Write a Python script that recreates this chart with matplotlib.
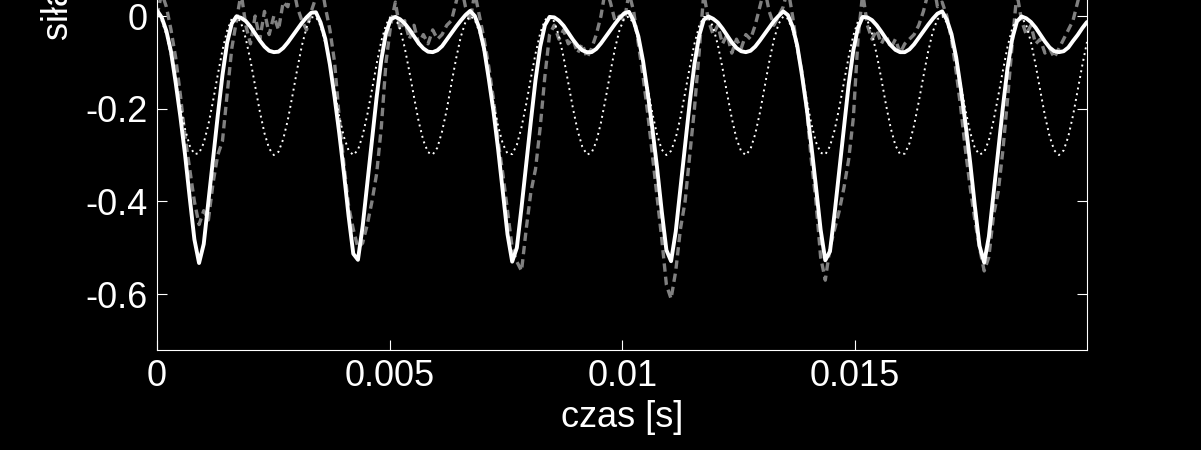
import numpy as np
import matplotlib
matplotlib.use("Agg")
import matplotlib.pyplot as plt

plt.rcParams["font.family"] = ["Liberation Sans", "DejaVu Sans"]
plt.rcParams["axes.unicode_minus"] = False

t_end = 0.01998

# model (solid white)
force_model = [
    0.012, -0.003, -0.032, -0.077, -0.144, -0.217, -0.299, -0.392, -0.482, -0.533,
    -0.492, -0.401, -0.308, -0.215, -0.128, -0.058, -0.016, -0.001, -0.004, -0.011,
    -0.023, -0.038, -0.053, -0.066, -0.075, -0.078, -0.077, -0.069, -0.057, -0.043,
    -0.029, -0.015, -0.003, 0.007,
    0.008, -0.014, -0.049, -0.105, -0.175, -0.253, -0.339, -0.432, -0.513, -0.526,
    -0.454, -0.361, -0.267, -0.175, -0.094, -0.037, -0.007, -0.002, -0.007, -0.016,
    -0.029, -0.044, -0.059, -0.070, -0.077, -0.078, -0.074, -0.065, -0.051, -0.037,
    -0.023, -0.010, 0.002, 0.011,
    0.000, -0.027, -0.071, -0.136, -0.206, -0.288, -0.380, -0.471, -0.530, -0.500,
    -0.413, -0.320, -0.227, -0.138, -0.066, -0.020, -0.002, -0.003, -0.010, -0.021,
    -0.036, -0.051, -0.064, -0.074, -0.078, -0.078, -0.071, -0.059, -0.045, -0.031,
    -0.017, -0.004, 0.006,
    0.009, -0.011, -0.044, -0.097, -0.166, -0.243, -0.327, -0.421, -0.505, -0.529,
    -0.465, -0.372, -0.279, -0.186, -0.104, -0.043, -0.008, -0.001, -0.006, -0.014,
    -0.027, -0.042, -0.057, -0.069, -0.076, -0.078, -0.075, -0.066, -0.053, -0.039,
    -0.025, -0.011, 0.000, 0.010,
    0.002, -0.023, -0.064, -0.127, -0.197, -0.278, -0.368, -0.461, -0.527, -0.508,
    -0.425, -0.332, -0.238, -0.148, -0.074, -0.025, -0.002, -0.003, -0.009, -0.020,
    -0.034, -0.049, -0.063, -0.073, -0.078, -0.078, -0.072, -0.061, -0.047, -0.033,
    -0.019, -0.006, 0.005,
    0.010, -0.008, -0.039, -0.089, -0.157, -0.232, -0.316, -0.410, -0.496, -0.532,
    -0.476, -0.384, -0.291, -0.197, -0.112, -0.049, -0.012, -0.001, -0.005, -0.013,
    -0.025, -0.040, -0.055, -0.068, -0.076, -0.078, -0.076, -0.068, -0.054, -0.041,
    -0.026, -0.013,
]

# second component (dotted white)
force_component = [
    0.000, -0.010, -0.040, -0.085, -0.139, -0.195, -0.244, -0.280, -0.298, -0.296,
    -0.274, -0.234, -0.183, -0.127, -0.074, -0.032, -0.006, 0.000, -0.015, -0.049,
    -0.096, -0.151, -0.206, -0.253, -0.286, -0.300, -0.293, -0.266, -0.224, -0.171,
    -0.115, -0.064, -0.025, -0.003, -0.002, -0.021, -0.058, -0.108, -0.163, -0.217,
    -0.261, -0.290, -0.300, -0.289, -0.258, -0.213, -0.159, -0.103, -0.054, -0.019,
    -0.001, -0.004, -0.028, -0.068, -0.120, -0.175, -0.228, -0.269, -0.294, -0.299,
    -0.284, -0.249, -0.202, -0.146, -0.092, -0.045, -0.013, 0.000, -0.008, -0.035,
    -0.078, -0.132, -0.187, -0.238, -0.276, -0.297, -0.298, -0.278, -0.240, -0.190,
    -0.134, -0.081, -0.037, -0.009, 0.000, -0.012, -0.043, -0.089, -0.144, -0.199,
    -0.247, -0.282, -0.299, -0.295, -0.271, -0.230, -0.178, -0.122, -0.070, -0.029,
    -0.005, -0.001, -0.017, -0.052, -0.101, -0.156, -0.210, -0.256, -0.288, -0.300,
    -0.291, -0.263, -0.219, -0.166, -0.110, -0.060, -0.022, -0.002, -0.003, -0.024,
    -0.062, -0.112, -0.168, -0.221, -0.265, -0.292, -0.300, -0.287, -0.255, -0.209,
    -0.154, -0.099, -0.051, -0.017, -0.001, -0.006, -0.030, -0.072, -0.124, -0.180,
    -0.232, -0.272, -0.295, -0.299, -0.281, -0.246, -0.197, -0.142, -0.088, -0.042,
    -0.011, 0.000, -0.009, -0.038, -0.083, -0.136, -0.192, -0.242, -0.279, -0.298,
    -0.297, -0.275, -0.236, -0.185, -0.130, -0.077, -0.034, -0.007, 0.000, -0.014,
    -0.047, -0.094, -0.148, -0.203, -0.251, -0.285, -0.299, -0.294, -0.268, -0.226,
    -0.173, -0.118, -0.066, -0.027, -0.004, -0.002, -0.020, -0.056, -0.105, -0.161,
    -0.215, -0.260, -0.290, -0.300, -0.290, -0.260, -0.215, -0.161, -0.106, -0.056,
]

# measured (grey dashed)
force_measured = [
    0.00, 0.05, 0.02, -0.03, -0.09, -0.17, -0.26, -0.33, -0.40, -0.45,
    -0.42, -0.44, -0.36, -0.30, -0.27, -0.17, -0.07, -0.01, 0.05, -0.02,
    -0.06, 0.00, -0.05, 0.01, -0.04, 0.00, -0.03, 0.03, 0.02, 0.07,
    0.02, -0.01, -0.03, 0.01, 0.04, 0.08, 0.02, -0.03, -0.10, -0.22,
    -0.32, -0.41, -0.46, -0.50, -0.49, -0.45, -0.40, -0.34, -0.24, -0.10,
    -0.02, 0.03, -0.03, -0.01, -0.05, -0.02, -0.06, -0.04, -0.06, -0.03,
    -0.05, -0.04, -0.02, -0.01, 0.03, 0.07, 0.02, -0.01, 0.05, 0.00,
    -0.05, -0.11, -0.18, -0.27, -0.34, -0.42, -0.50, -0.53, -0.55, -0.46,
    -0.38, -0.33, -0.24, -0.13, -0.04, -0.02, -0.05, -0.03, -0.06, -0.05,
    -0.08, -0.06, -0.09, -0.07, -0.04, 0.00, 0.06, 0.03, -0.01, 0.00,
    -0.01, 0.05, 0.01, -0.06, -0.13, -0.21, -0.30, -0.39, -0.48, -0.58,
    -0.61, -0.55, -0.46, -0.40, -0.30, -0.20, -0.08, 0.05, -0.01, -0.04,
    -0.02, -0.06, -0.04, -0.08, -0.05, -0.07, -0.04, -0.05, -0.02, 0.02,
    0.06, 0.01, -0.02, 0.00, 0.02, 0.06, 0.00, -0.07, -0.12, -0.20,
    -0.31, -0.40, -0.52, -0.57, -0.50, -0.46, -0.42, -0.37, -0.31, -0.22,
    -0.05, 0.05, -0.02, -0.05, -0.03, -0.06, -0.04, -0.07, -0.05, -0.08,
    -0.06, -0.05, -0.04, -0.02, 0.01, 0.05, 0.08, 0.02, 0.03, 0.00,
    -0.05, -0.12, -0.20, -0.29, -0.37, -0.44, -0.50, -0.55, -0.52, -0.43,
    -0.38, -0.29, -0.18, -0.06, 0.05, -0.01, -0.04, -0.02, -0.06, -0.05,
    -0.08, -0.07, -0.09, -0.07, -0.05, -0.03, -0.01, 0.03, 0.07, 0.10,
]

x_ticks = [0, 0.005, 0.01, 0.015]
x_tick_labels = ["0", "0.005", "0.01", "0.015"]
y_ticks = [-0.6, -0.4, -0.2, 0]
y_tick_labels = ["-0.6", "-0.4", "-0.2", "0"]

t = np.linspace(0, t_end, len(force_model))

W, H = 1201, 450
fig = plt.figure(figsize=(W / 100, H / 100), dpi=100, facecolor="black")
# axes top lies above the image, like the cropped original
ax = fig.add_axes([157 / W, 100 / H, 930 / W, 426.7 / H])
ax.set_facecolor("black")

ax.plot(t, force_measured, color="#808080", linewidth=2.4, linestyle=(0, (2.5, 1.5)))
ax.plot(t, force_component, color="white", linewidth=1.4, linestyle=(0, (1.0, 2.0)))
ax.plot(t, force_model, color="white", linewidth=2.8,
        solid_joinstyle="round", solid_capstyle="round")

ax.set_xlim(0, t_end)
ax.set_ylim(-0.7206, 0.2)
ax.set_xticks(x_ticks)
ax.set_xticklabels(x_tick_labels)
ax.set_yticks(y_ticks)
ax.set_yticklabels(y_tick_labels)

for spine in ax.spines.values():
    spine.set_color("white")
    spine.set_linewidth(0.8)
ax.tick_params(direction="in", length=7.2, width=0.8, colors="white",
               labelsize=26, pad=6.5, top=True, right=True)

ax.set_xlabel("czas [s]", color="white", fontsize=26, labelpad=4)
fig.text(58.5 / W, (H - 40) / H, "siła [N]", color="white", fontsize=26,
         rotation=90, ha="center", va="bottom")

fig.savefig("out.png", dpi=100, facecolor="black")
